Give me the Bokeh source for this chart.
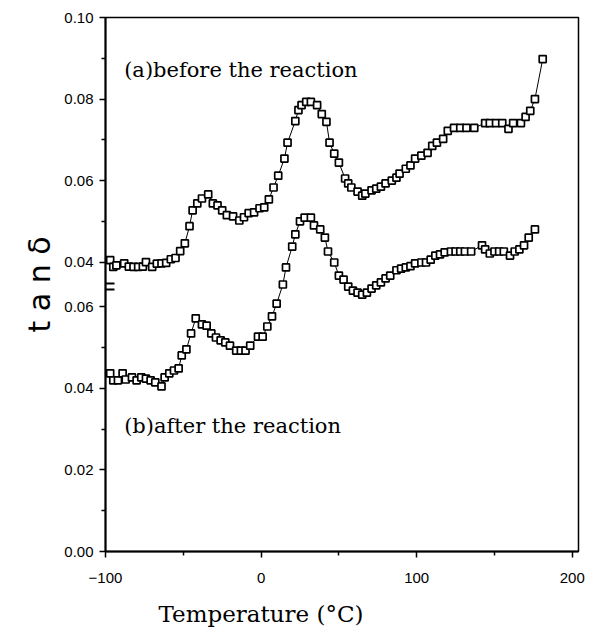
from bokeh.plotting import figure
from bokeh.models import FixedTicker, Range1d, Label, LinearAxis, Title, CustomLabelingPolicy
from bokeh.embed import file_html
from bokeh.resources import INLINE

# ---- data ----
temp_a = [-97, -95, -93, -88, -85, -82, -79, -76, -74, -70, -67, -64, -61, -58, -55, -52, -49, -46,
          -44, -41, -38, -34, -31, -28, -25, -22, -18, -14, -11, -8, -4.5, -1, 2, 5, 8, 11, 15, 17,
          22, 24, 26, 29, 32, 36, 39, 42, 44, 47, 50, 54, 56, 58, 62, 65, 67, 71, 74, 77, 80, 84,
          87, 89, 93, 96, 99, 103, 107, 110, 113, 117, 120, 124, 128, 132, 137, 144, 147, 151, 155,
          159, 162, 167, 170, 173, 176, 181]
tand_a = [0.0405, 0.0388, 0.0392, 0.0397, 0.0389, 0.0388, 0.0388, 0.0389, 0.0400, 0.0388, 0.0396,
          0.0397, 0.0398, 0.0407, 0.0410, 0.0427, 0.0446, 0.0488, 0.0527, 0.0544, 0.0556, 0.0566,
          0.0544, 0.0539, 0.0527, 0.0515, 0.0512, 0.0502, 0.0510, 0.0520, 0.0522, 0.0532, 0.0534,
          0.0554, 0.0583, 0.0612, 0.0654, 0.0693, 0.0746, 0.0773, 0.0785, 0.0793, 0.0793, 0.0785,
          0.0763, 0.0744, 0.0693, 0.0666, 0.0644, 0.0605, 0.0593, 0.0583, 0.0573, 0.0563, 0.0568,
          0.0576, 0.0580, 0.0585, 0.0593, 0.0600, 0.0607, 0.0617, 0.0629, 0.0637, 0.0654, 0.0661,
          0.0668, 0.0685, 0.0693, 0.0702, 0.0722, 0.0729, 0.0729, 0.0729, 0.0729, 0.0741, 0.0741,
          0.0741, 0.0741, 0.0727, 0.0741, 0.0741, 0.0756, 0.0771, 0.0800, 0.0898]

temp_b = [-97, -95, -92, -89, -87, -83, -80, -77, -74, -71, -68, -64, -62, -59, -56, -53, -51, -48,
          -45, -42, -38, -35, -32, -29, -26, -23, -20, -16, -13, -10, -7, -2, 1, 4, 7, 10, 14, 16,
          20, 22, 25, 28, 32, 34, 38, 41, 43, 47, 50, 53, 56, 59, 62, 65, 68, 71, 74, 77, 80, 83,
          87, 90, 93, 96, 99, 103, 106, 109, 112, 115, 118, 122, 125, 128, 131, 135, 142, 144, 147,
          150, 153, 156, 160, 163, 166, 169, 172, 176]
tand_b = [0.0437, 0.0420, 0.0420, 0.0437, 0.0422, 0.0427, 0.0420, 0.0427, 0.0424, 0.0420, 0.0415,
          0.0405, 0.0427, 0.0437, 0.0444, 0.0449, 0.0481, 0.0496, 0.0535, 0.0572, 0.0557, 0.0554,
          0.0535, 0.0525, 0.0518, 0.0513, 0.0505, 0.0493, 0.0493, 0.0493, 0.0505, 0.0527, 0.0527,
          0.0552, 0.0577, 0.0608, 0.0655, 0.0697, 0.0748, 0.0778, 0.0810, 0.0819, 0.0819, 0.0800,
          0.0790, 0.0770, 0.0736, 0.0709, 0.0677, 0.0667, 0.0650, 0.0640, 0.0635, 0.0630, 0.0635,
          0.0645, 0.0653, 0.0660, 0.0670, 0.0677, 0.0690, 0.0694, 0.0697, 0.0700, 0.0707, 0.0709,
          0.0709, 0.0716, 0.0726, 0.0729, 0.0734, 0.0736, 0.0736, 0.0736, 0.0736, 0.0736, 0.0751,
          0.0741, 0.0731, 0.0736, 0.0736, 0.0736, 0.0726, 0.0736, 0.0741, 0.0751, 0.0770, 0.0790]

x_ticks = [-100, 0, 100, 200]
x_minor = [-50, 50, 150]
lower_ticks = [0.00, 0.02, 0.04, 0.06]
lower_minor = [0.01, 0.03, 0.05]
upper_ticks = [0.04, 0.06, 0.08, 0.10]
upper_minor = [0.05, 0.07, 0.09]
break_marks = [0.0643, 0.0657]

label_a = "(a)before the reaction"
label_b = "(b)after the reaction"
x_title = "Temperature (°C)"
y_title = "t a n δ"

# ---- scales: lower axis 0..TOP, upper axis shifted by OFFSET ----
OFFSET = 0.031
TOP = 0.131

p = figure(width=597, height=640, x_range=Range1d(-100, 204), y_range=Range1d(0, TOP),
           output_backend="svg", toolbar_location=None,
           min_border_left=105, min_border_right=19, min_border_top=17, min_border_bottom=89)
p.extra_y_ranges = {"upper": Range1d(-OFFSET, TOP - OFFSET)}

p.xgrid.visible = False
p.ygrid.visible = False
p.outline_line_color = "black"
p.outline_line_width = 1.5
p.background_fill_color = "white"
p.border_fill_color = "white"

# y ticks combine the two scales on one axis
disp_ticks = [round(v, 6) for v in lower_ticks] + [round(v + OFFSET, 6) for v in upper_ticks]
disp_minor = [round(v, 6) for v in lower_minor] + [round(v + OFFSET, 6) for v in upper_minor]
overrides = {}
for v in lower_ticks:
    overrides[round(v, 6)] = f"{v:.2f}"
for v in upper_ticks:
    overrides[round(v + OFFSET, 6)] = f"{v:.2f}"

p.yaxis.ticker = FixedTicker(ticks=disp_ticks, minor_ticks=disp_minor)
p.yaxis.major_label_overrides = overrides
p.xaxis.ticker = FixedTicker(ticks=x_ticks, minor_ticks=x_minor)

for ax in (p.xaxis[0], p.yaxis[0]):
    ax.axis_line_width = 2
    ax.axis_line_color = "black"
    ax.major_tick_line_color = "black"
    ax.minor_tick_line_color = "black"
    ax.major_tick_line_width = 1.5
    ax.minor_tick_line_width = 1.5
    ax.major_tick_in = 0
    ax.major_tick_out = 6
    ax.minor_tick_in = 0
    ax.minor_tick_out = 4
    ax.major_label_text_font = "Liberation Sans"
    ax.major_label_text_font_size = "15px"
    ax.major_label_text_color = "black"
    ax.axis_label_text_font_style = "normal"
    ax.axis_label_text_color = "black"

p.xaxis.major_label_standoff = 15

p.yaxis.major_label_standoff = 6
p.yaxis.axis_label = y_title
p.yaxis.axis_label_text_font = "DejaVu Sans"
p.yaxis.axis_label_text_font_size = "30px"
p.yaxis.axis_label_standoff = 4

# axis-break mark: a label-less axis drawn at x = -100 with two long ticks
brk = LinearAxis(ticker=FixedTicker(ticks=break_marks, minor_ticks=[]),
                 fixed_location=-100, axis_line_color=None,
                 major_tick_in=9, major_tick_out=9, major_tick_line_width=1.8,
                 major_tick_line_color="black", minor_tick_line_color=None,
                 major_label_policy=CustomLabelingPolicy(code="return []"),
                 major_label_standoff=0)
p.add_layout(brk, "left")

# curves
p.line(temp_a, tand_a, y_range_name="upper", line_color="black", line_width=1)
p.scatter(temp_a, tand_a, y_range_name="upper", marker="square", size=7,
          fill_color="white", line_color="black", line_width=1.7)
p.line(temp_b, tand_b, line_color="black", line_width=1)
p.scatter(temp_b, tand_b, marker="square", size=7,
          fill_color="white", line_color="black", line_width=1.7)

p.add_layout(Label(x=-88, y=0.087, y_range_name="upper", text=label_a,
                   text_font="DejaVu Serif", text_font_size="21px",
                   text_baseline="middle", text_color="black"))
p.add_layout(Label(x=-88, y=0.0309, text=label_b,
                   text_font="DejaVu Serif", text_font_size="21px",
                   text_baseline="middle", text_color="black"))

# x-axis title (placed left of centre as in the original)
p.add_layout(Title(text=x_title, align="left", offset=53, standoff=26,
                   text_font="DejaVu Serif", text_font_size="23px",
                   text_font_style="normal", text_color="black"), "below")

open("out.html", "w").write(file_html(p, INLINE))
